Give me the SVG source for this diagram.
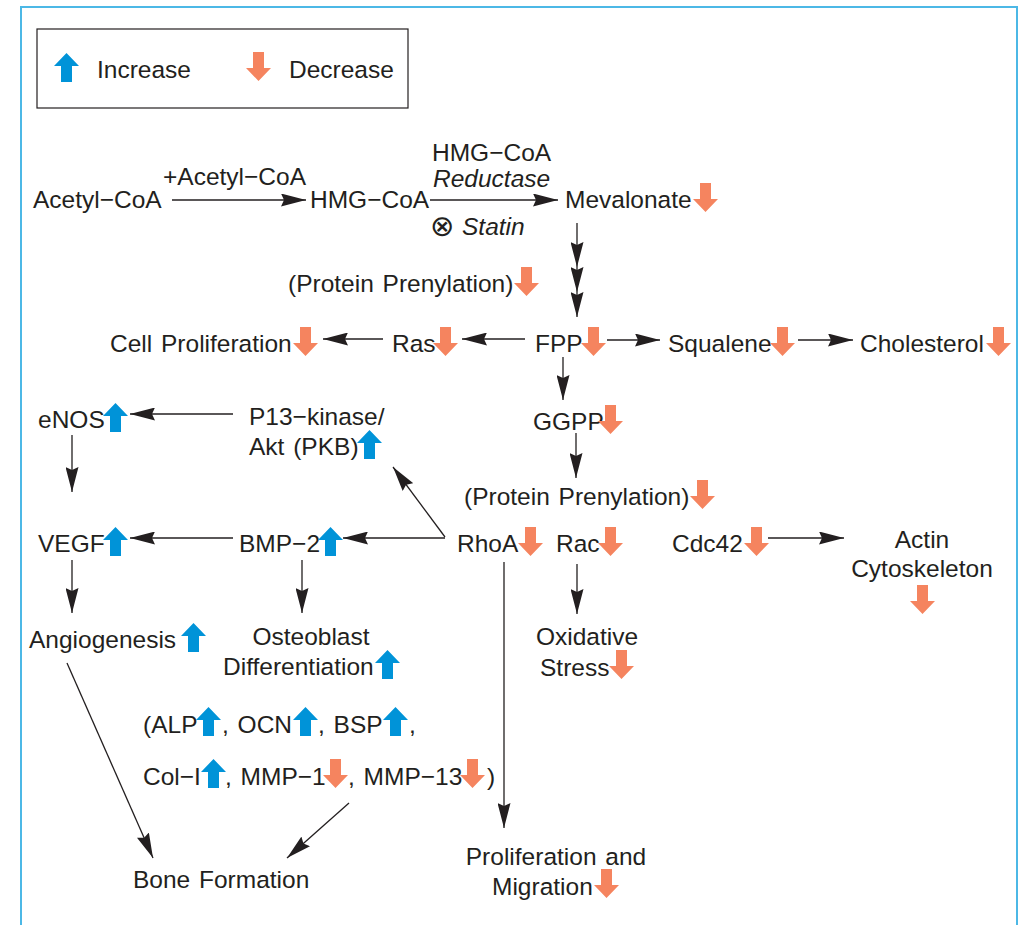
<svg xmlns="http://www.w3.org/2000/svg" width="1032" height="925" viewBox="0 0 1032 925">
<style>
.t{font-family:"Liberation Sans",Arial,sans-serif;font-size:24.5px;fill:#231f20;word-spacing:2px}
.i{font-style:italic}
.c{fill:none;stroke:#231f20;stroke-width:1.3}
</style>
<defs>
<marker id="ah" viewBox="0 0 25 13" refX="25" refY="6.5" markerWidth="25" markerHeight="13" markerUnits="userSpaceOnUse" orient="auto">
<path d="M0,0 L25,6.5 L0,13 L3,6.5 Z" fill="#231f20"/>
</marker>
<path id="up" d="M12.5,0 L25,13 L18,13 L18,29 L7,29 L7,13 L0,13 Z" fill="#0093d8"/>
<path id="dn" d="M7,0 L18,0 L18,16 L25,16 L12.5,29 L0,16 L7,16 Z" fill="#f5845f"/>
</defs>
<rect width="1032" height="925" fill="#fff"/>
<path d="M21,925 V7 H1017 V925" fill="none" stroke="#4cb8e6" stroke-width="2"/>

<g id="legend">
<rect x="37" y="29" width="371" height="79" fill="none" stroke="#231f20" stroke-width="1.2"/>
<use href="#up" x="54" y="53"/>
<text class="t" x="97" y="78">Increase</text>
<use href="#dn" x="246" y="52"/>
<text class="t" x="289" y="78">Decrease</text>
</g>

<g id="connectors" class="c" marker-end="url(#ah)">
<path d="M172,200 H306"/>
<path d="M430,200 H558"/>
<path d="M577,223 V267 V292 V317" marker-mid="url(#ah)"/>
<path d="M525,339 H462"/>
<path d="M383,339 H323"/>
<path d="M607,340 H660"/>
<path d="M798,340 H853"/>
<path d="M563,357 V400"/>
<path d="M576,433 V478"/>
<path d="M233,414 H130"/>
<path d="M72,435 V492"/>
<path d="M445,537 L393,467"/>
<path d="M445,538 H343"/>
<path d="M233,538 H130"/>
<path d="M768,538 H844"/>
<path d="M577,564 V614"/>
<path d="M504,562 V828"/>
<path d="M72,560 V613"/>
<path d="M302,560 V613"/>
<path d="M67,663 L153,858"/>
<path d="M349,803 L287,858"/>
</g>

<g id="acetylcoa"><text class="t" x="33" y="208">Acetyl−CoA</text></g>
<g id="label-acetylcoa"><text class="t" x="163" y="185">+Acetyl−CoA</text></g>
<g id="hmgcoa"><text class="t" x="310" y="208">HMG−CoA</text></g>
<g id="label-reductase">
<text class="t" x="432" y="161">HMG−CoA</text>
<text class="t i" x="433" y="187">Reductase</text>
<text class="t" x="430" y="236"><tspan style="font-family:'DejaVu Sans',sans-serif;font-size:29px">⊗</tspan><tspan class="i" x="462" y="235">Statin</tspan></text>
</g>
<g id="mevalonate"><text class="t" x="565" y="208">Mevalonate</text><use href="#dn" x="693" y="183"/></g>
<g id="prenylation1"><text class="t" x="288" y="292">(Protein Prenylation)</text><use href="#dn" x="514" y="267"/></g>
<g id="cellprolif"><text class="t" x="110" y="352">Cell Proliferation</text><use href="#dn" x="293" y="327"/></g>
<g id="ras"><text class="t" x="392" y="352">Ras</text><use href="#dn" x="433" y="327"/></g>
<g id="fpp"><text class="t" x="535" y="352">FPP</text><use href="#dn" x="581" y="327"/></g>
<g id="squalene"><text class="t" x="668" y="352">Squalene</text><use href="#dn" x="770" y="327"/></g>
<g id="cholesterol"><text class="t" x="860" y="352">Cholesterol</text><use href="#dn" x="986" y="327"/></g>
<g id="ggpp"><text class="t" x="533" y="430">GGPP</text><use href="#dn" x="598" y="405"/></g>
<g id="enos"><text class="t" x="38" y="428">eNOS</text><use href="#up" x="103" y="403"/></g>
<g id="pi3k"><text class="t" x="249" y="425">P13−kinase/</text><text class="t" x="249" y="455">Akt (PKB)</text><use href="#up" x="357" y="430"/></g>
<g id="prenylation2"><text class="t" x="464" y="505">(Protein Prenylation)</text><use href="#dn" x="690" y="480"/></g>
<g id="vegf"><text class="t" x="38" y="552">VEGF</text><use href="#up" x="103" y="527"/></g>
<g id="bmp2"><text class="t" x="239" y="552">BMP−2</text><use href="#up" x="318" y="527"/></g>
<g id="rhoa"><text class="t" x="457" y="552">RhoA</text><use href="#dn" x="518" y="527"/></g>
<g id="rac"><text class="t" x="556" y="552">Rac</text><use href="#dn" x="598" y="527"/></g>
<g id="cdc42"><text class="t" x="672" y="552">Cdc42</text><use href="#dn" x="744" y="527"/></g>
<g id="actin"><text class="t" x="922" y="548" text-anchor="middle">Actin</text><text class="t" x="922" y="577" text-anchor="middle">Cytoskeleton</text><use href="#dn" x="910" y="585"/></g>
<g id="oxidative"><text class="t" x="587" y="645" text-anchor="middle">Oxidative</text><text class="t" x="540" y="676">Stress</text><use href="#dn" x="609" y="650"/></g>
<g id="angiogenesis"><text class="t" x="29" y="648">Angiogenesis</text><use href="#up" x="181" y="623"/></g>
<g id="osteoblast"><text class="t" x="311" y="645" text-anchor="middle">Osteoblast</text><text class="t" x="223" y="675">Differentiation</text><use href="#up" x="375" y="650"/></g>
<g id="markers">
<text class="t" x="143" y="733">(ALP</text><use href="#up" x="196" y="707"/>
<text class="t" x="222" y="733">, OCN</text><use href="#up" x="293" y="707"/>
<text class="t" x="318" y="733">, BSP</text><use href="#up" x="383" y="707"/>
<text class="t" x="409" y="733">,</text>
<text class="t" x="143" y="785">Col−I</text><use href="#up" x="201" y="759"/>
<text class="t" x="225" y="785">, MMP−1</text><use href="#dn" x="323" y="759"/>
<text class="t" x="348" y="785">, MMP−13</text><use href="#dn" x="460" y="759"/>
<text class="t" x="487" y="785">)</text>
</g>
<g id="boneformation"><text class="t" x="133" y="888">Bone Formation</text></g>
<g id="prolifmigration"><text class="t" x="556" y="865" text-anchor="middle">Proliferation and</text><text class="t" x="492" y="895">Migration</text><use href="#dn" x="594" y="869"/></g>
</svg>
